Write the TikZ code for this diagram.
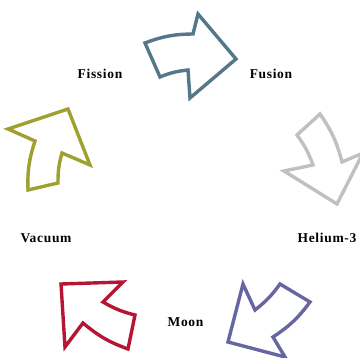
\documentclass[tikz,border=0pt]{standalone}
\usepackage{fontspec}
\setmainfont{Liberation Serif}
\usepackage{tikz}
\definecolor{FusionBlue}{RGB}{84,119,138}
\definecolor{HeliumGray}{RGB}{192,192,192}
\definecolor{MoonPurple}{RGB}{102,102,162}
\definecolor{VacuumRed}{RGB}{182,22,54}
\definecolor{FissionOlive}{RGB}{160,160,48}

\begin{document}
\begin{tikzpicture}[x=1pt,y=-1pt,
  cyc/.style={line width=3.4pt,fill=white,line join=miter},
  lbl/.style={font=\bfseries\fontsize{13.5}{15}\selectfont\addfontfeature{LetterSpace=5},inner sep=0pt},
]
\useasboundingbox (0,0) rectangle (360,358);
\draw[cyc,draw=FusionBlue] (160,77) -- (145,43) to[bend left=10] (193,34)
  -- (198,14) -- (236,59) -- (190,98) -- (188,70) to[bend right=8] cycle;
\draw[cyc,draw=HeliumGray] (297,135) -- (320,114) to[bend left=10] (342,162)
  -- (363,153) -- (337,204) -- (284,171) -- (313,165) to[bend right=8] cycle;
\draw[cyc,draw=MoonPurple] (280,284) -- (310,302) to[bend left=10] (273,337)
  -- (285,357) -- (228,342) -- (243,284) -- (255,310) to[bend right=8] cycle;
\draw[cyc,draw=VacuumRed] (135,315) -- (128,349) to[bend left=10] (83,323)
  -- (65,347) -- (61,284) -- (123,282) -- (103,302) to[bend right=8] cycle;
\draw[cyc,draw=FissionOlive] (58,183) -- (28,190) to[bend left=10] (35,141)
  -- (8,129) -- (68,109) -- (90,165) -- (62,153) to[bend right=8] cycle;
\node[lbl] (fission) at (100,74) {Fission};
\node[lbl] (fusion) at (271,74) {Fusion};
\node[lbl] (helium) at (327,238) {Helium-3};
\node[lbl] (moon) at (185.5,322) {Moon};
\node[lbl] (vacuum) at (46,238) {Vacuum};
\end{tikzpicture}
\end{document}
